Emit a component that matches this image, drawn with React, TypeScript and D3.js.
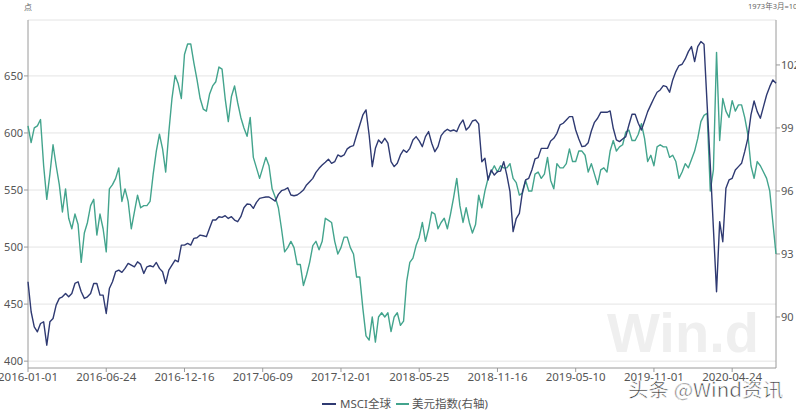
import React from "react";
import * as d3 from "d3";

const startDate = "2016-01-01";
const weeks = 240;

const msci = [
  469.6, 443.3, 430.1, 425.7, 433.0, 434.5, 414.0, 434.5, 437.4, 449.1,
  455.0, 456.4, 459.3, 456.4, 459.3, 468.1, 469.6, 460.8, 455.0, 456.4,
  459.3, 468.1, 468.1, 457.9, 457.9, 441.8, 463.7, 469.6, 478.4, 479.8,
  477.8, 481.3, 485.7, 484.2, 482.7, 487.1, 484.8, 476.9, 482.7, 483.6,
  482.7, 486.5, 481.3, 478.4, 468.1, 479.8, 484.2, 488.6, 487.1, 501.7,
  501.7, 503.2, 501.7, 507.6, 508.2, 510.5, 509.9, 509.1, 516.4, 523.7,
  523.7, 526.6, 526.0, 527.5, 525.1, 526.6, 523.7, 522.2, 526.6, 534.5,
  537.7, 537.4, 533.9, 539.2, 542.7, 543.3, 543.9, 543.9, 542.1, 540.3,
  546.2, 549.4, 550.3, 552.0, 545.6, 545.0, 545.6, 547.6, 550.0, 554.4,
  557.3, 560.2, 565.5, 569.0, 571.9, 574.3, 577.0, 573.4, 574.8, 580.7,
  579.2, 580.7, 586.0, 588.0, 588.9, 598.2, 607.0, 615.8, 620.2, 598.2,
  570.5, 586.5, 593.9, 591.0, 595.3, 591.0, 574.8, 570.5, 573.4, 580.7,
  585.1, 583.0, 586.5, 593.9, 596.8, 593.0, 588.0, 596.8, 601.2, 591.0,
  583.6, 588.0, 597.7, 601.2, 603.2, 601.7, 602.6, 601.2, 607.6, 611.4,
  602.6, 605.5, 610.5, 611.4, 608.0, 574.8, 577.8, 558.8, 567.5, 563.1,
  566.1, 566.6, 574.8, 563.1, 548.5, 513.5, 525.0, 529.5, 548.5, 558.8,
  560.2, 567.5, 577.2, 578.4, 586.5, 586.5, 586.5, 593.0, 595.3, 599.7,
  607.0, 608.5, 611.4, 614.3, 614.3, 602.6, 594.7, 588.0, 588.6, 591.5,
  601.7, 609.3, 612.9, 618.1, 618.1, 618.1, 619.3, 604.1, 593.9, 592.4,
  594.7, 596.8, 607.0, 616.4, 616.4, 608.5, 602.6, 610.5, 618.7, 624.6,
  630.4, 635.7, 637.7, 641.5, 640.6, 635.7, 646.5, 653.8, 659.1, 660.2,
  664.9, 671.3, 675.7, 662.6, 675.7, 680.1, 677.8, 624.6, 572.0, 516.4,
  460.8, 522.2, 504.7, 551.5, 558.8, 560.2, 567.5, 570.5, 573.4, 583.6,
  595.3, 615.8, 628.0, 618.7, 612.9, 623.1, 633.3, 640.6, 646.5, 643.6,
];

const dxy = [
  99.1, 98.3, 99.0, 99.1, 99.4, 97.2, 95.6, 96.8, 98.2, 97.2,
  96.3, 95.0, 96.1, 94.7, 94.2, 94.9, 94.4, 92.6, 94.0, 94.5,
  95.3, 95.6, 93.9, 94.9, 94.2, 93.1, 96.1, 96.3, 96.6, 97.1,
  95.5, 96.1, 95.5, 94.2, 95.0, 95.8, 95.2, 95.3, 95.3, 95.5,
  96.8, 97.9, 98.7, 98.0, 96.9, 98.8, 100.4, 101.5, 101.1, 100.4,
  102.5, 103.0, 103.0, 102.1, 101.3, 100.4, 99.9, 99.8, 100.6, 101.0,
  101.2, 101.9, 101.8, 100.4, 99.3, 100.5, 101.0, 100.2, 99.5, 99.0,
  98.6, 99.5, 97.6, 97.1, 96.6, 97.1, 97.6, 97.2, 96.1, 95.7,
  95.2, 94.2, 93.1, 93.3, 93.6, 93.3, 92.5, 92.5, 91.5, 92.0,
  92.6, 93.4, 93.6, 93.2, 93.6, 94.7, 94.6, 94.5, 93.6, 93.0,
  93.3, 93.8, 93.8, 93.3, 93.0, 91.9, 91.9, 90.4, 89.1, 88.9,
  90.0, 88.8, 90.0, 90.2, 90.0, 90.2, 89.3, 90.0, 90.2, 89.6,
  89.8, 91.7, 92.6, 92.8, 93.4, 93.8, 94.5, 93.6, 94.2, 95.0,
  94.9, 94.2, 94.5, 94.7, 94.2, 94.9, 95.7, 96.6, 95.3, 94.5,
  95.2, 94.5, 94.0, 94.4, 95.8, 95.2, 96.0, 96.6, 96.9, 97.2,
  96.9, 97.2, 97.1, 97.1, 97.3, 96.6, 96.4, 95.8, 95.9, 96.5,
  96.0, 96.0, 96.8, 96.9, 96.6, 96.8, 97.6, 96.5, 96.1, 97.3,
  97.1, 97.1, 97.3, 98.0, 97.4, 97.4, 97.9, 97.9, 97.7, 96.9,
  97.3, 96.8, 96.3, 97.0, 97.1, 96.9, 97.9, 98.4, 97.9, 98.1,
  98.2, 98.8, 98.9, 98.4, 98.4, 98.7, 99.2, 98.5, 97.4, 97.7,
  97.2, 98.1, 98.2, 98.1, 98.1, 97.6, 97.7, 97.4, 96.6, 96.9,
  97.3, 97.1, 97.5, 97.9, 98.5, 99.3, 99.6, 99.7, 96.0, 97.0,
  102.6, 98.4, 100.4, 99.8, 99.5, 100.3, 99.8, 100.1, 100.1, 99.5,
  98.7, 97.2, 96.6, 97.4, 97.2, 96.9, 96.6, 96.0, 94.5, 93.0,
];

const xTickLabels = [
  "2016-01-01", "2016-06-24", "2016-12-16", "2017-06-09", "2017-12-01",
  "2018-05-25", "2018-11-16", "2019-05-10", "2019-11-01", "2020-04-24",
];
const leftTicks = [400, 450, 500, 550, 600, 650];
const rightTicks = [90, 93, 96, 99, 102];
const leftDomain = [394, 699];
const rightDomain = [87.57, 104.14];

const seriesNames = ["MSCI全球", "美元指数(右轴)"];
const colors = ["#2f3a72", "#43a48d"];

const W = 796;
const H = 412;
const L = 28;
const R = 776;
const T = 20;
const B = 368;

const fmt = d3.utcFormat("%Y-%m-%d");
const start = d3.utcParse("%Y-%m-%d")(startDate) as Date;
const dates = d3.range(weeks).map((i) => fmt(d3.utcDay.offset(start, 7 * i)));

export default function App() {
  const x = d3.scalePoint<string>().domain(dates).range([L, R]);
  const yL = d3.scaleLinear().domain(leftDomain).range([B, T]);
  const yR = d3.scaleLinear().domain(rightDomain).range([B, T]);

  const lineL = d3
    .line<number>()
    .x((_, i) => x(dates[i]) as number)
    .y((d) => yL(d));
  const lineR = d3
    .line<number>()
    .x((_, i) => x(dates[i]) as number)
    .y((d) => yR(d));

  const font = "'Noto Sans', 'Noto Sans CJK SC', sans-serif";

  return (
    <svg
      width={W}
      height={H}
      style={{ position: "fixed", left: 0, top: 0, background: "#fff" }}
      fontFamily={font}
    >
      <rect x={0} y={0} width={W} height={H} fill="#fff" />
      {/* watermark */}
      <text
        x={607}
        y={352}
        fontFamily="'Liberation Sans', Arial, sans-serif"
        fontWeight="bold"
        fontSize={56}
        fill="#efefef"
      >
        Win.d
      </text>
      {/* grid */}
      <line x1={L} x2={R} y1={T} y2={T} stroke="#e4e4e4" />
      {leftTicks.map((t) => (
        <line key={t} x1={L} x2={R} y1={yL(t)} y2={yL(t)} stroke="#e4e4e4" />
      ))}
      {/* axes */}
      <line x1={L} x2={L} y1={T} y2={B} stroke="#9a9a9a" />
      <line x1={R} x2={R} y1={T} y2={B} stroke="#9a9a9a" />
      <line x1={L} x2={R} y1={B} y2={B} stroke="#9a9a9a" />
      {leftTicks.map((t) => (
        <g key={"l" + t}>
          <line x1={L - 4} x2={L} y1={yL(t)} y2={yL(t)} stroke="#9a9a9a" />
          <text x={L - 5} y={yL(t)} dy="0.35em" textAnchor="end" fontSize={11} fill="#555">
            {t}
          </text>
        </g>
      ))}
      {rightTicks.map((t) => (
        <g key={"r" + t}>
          <line x1={R} x2={R + 4} y1={yR(t)} y2={yR(t)} stroke="#9a9a9a" />
          <text x={R + 5} y={yR(t)} dy="0.35em" textAnchor="start" fontSize={11} fill="#555">
            {t}
          </text>
        </g>
      ))}
      {xTickLabels.map((t) => (
        <g key={t}>
          <line x1={x(t)} x2={x(t)} y1={B} y2={B + 4} stroke="#9a9a9a" />
          <text x={x(t)} y={B + 9} dy="0.35em" textAnchor="middle" fontSize={11.5} fill="#555">
            {t}
          </text>
        </g>
      ))}
      {/* lines */}
      <path d={lineR(dxy) || ""} fill="none" stroke={colors[1]} strokeWidth={1.4} strokeLinejoin="round" />
      <path d={lineL(msci) || ""} fill="none" stroke={colors[0]} strokeWidth={1.4} strokeLinejoin="round" />
      {/* unit labels */}
      <text x={24} y={10} fontSize={8} fill="#666">点</text>
      <text x={748} y={9} fontSize={7.5} fill="#666">1973年3月=100</text>
      {/* legend */}
      <line x1={322} x2={336} y1={404} y2={404} stroke={colors[0]} strokeWidth={2} />
      <text x={340} y={404} dy="0.35em" fontSize={11.5} fill="#555">{seriesNames[0]}</text>
      <line x1={396} x2={409} y1={404} y2={404} stroke={colors[1]} strokeWidth={2} />
      <text x={412} y={404} dy="0.35em" fontSize={11.5} fill="#555">{seriesNames[1]}</text>
      {/* overlay watermark */}
      <text
        x={628}
        y={397}
        fontFamily="'Noto Sans CJK SC', sans-serif"
        fontSize={19}
        fill="#3c3c3c"
        stroke="#fff"
        strokeWidth={0.6}
        textLength={155}
        lengthAdjust="spacingAndGlyphs"
      >
        头条 @Wind资讯
      </text>
    </svg>
  );
}
